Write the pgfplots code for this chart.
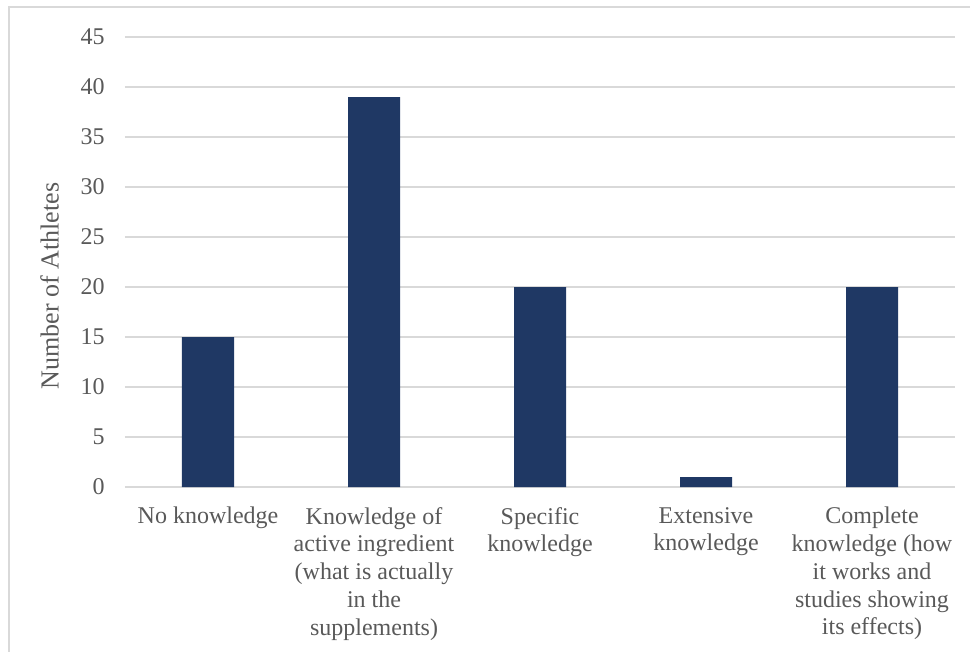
\documentclass[border=0pt]{standalone}
\usepackage{fontspec}
\setmainfont{Liberation Serif}
\usepackage{pgfplots}
\pgfplotsset{compat=1.18}
\definecolor{barblue}{HTML}{1F3864}
\definecolor{gridgray}{HTML}{D9D9D9}
\definecolor{textgray}{HTML}{595959}

\begin{document}
\begin{tikzpicture}
    \begin{axis}[
        at={(0,0)}, anchor=south west,
        scale only axis,
        width=622.5pt,
        height=337.5pt,
        ybar,
        bar width=39pt,
        xmin=-0.5, xmax=4.5,
        ymin=0, ymax=45,
        xtick={0,1,2,3,4},
        ytick={0,5,...,45},
        xticklabels={
            {No knowledge},
            {Knowledge of\\active ingredient\\(what is actually\\in the\\supplements)},
            {Specific\\knowledge},
            {Extensive\\knowledge},
            {Complete\\knowledge (how\\it works and\\studies showing\\its effects)}
        },
        axis line style={draw=none},
        major tick length=0pt,
        ymajorgrids,
        grid style={gridgray, line width=1.1pt},
        /pgf/number format/assume math mode=true,
        tick label style={font=\fontsize{18}{20.8}\selectfont, text=textgray},
        xticklabel style={align=center, anchor=north, inner sep=0pt, yshift=-15pt},
        yticklabel style={anchor=east, inner sep=0pt, xshift=-15pt},
        ylabel={Number of Athletes},
        every axis y label/.style={at={([xshift=-63.75pt]axis description cs:0,0.447)},
            rotate=90, anchor=north, inner sep=0pt,
            font=\fontsize{19.5}{22}\selectfont, text=textgray},
    ]
    \addplot[fill=barblue, draw=none] coordinates {
        (0, 15)
        (1, 39)
        (2, 20)
        (3, 1)
        (4, 20)
    };
    \end{axis}
    \draw[gridgray, line width=1.1pt] (-87pt,-140pt) -- (-87pt,360pt) -- (700pt,360pt);
    \pgfresetboundingbox
    \path[use as bounding box] (-93.75pt,-123pt) rectangle (633.75pt,365.25pt);
\end{tikzpicture}
\end{document}
